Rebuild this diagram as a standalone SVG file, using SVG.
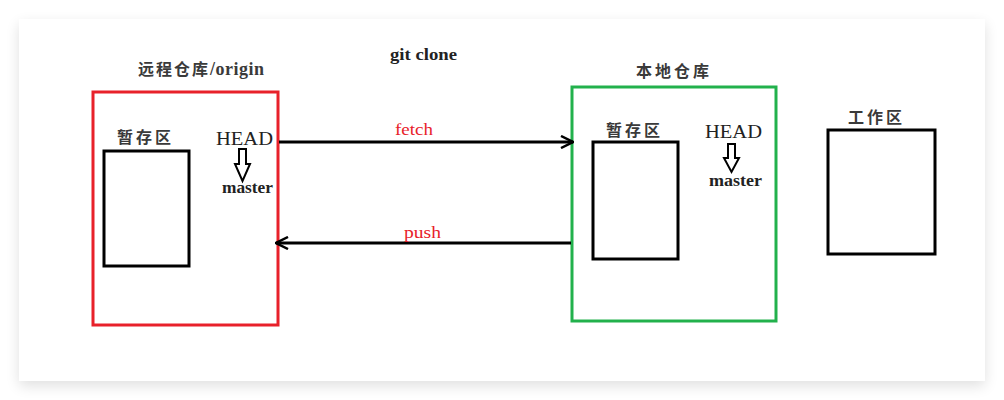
<svg xmlns="http://www.w3.org/2000/svg" width="1004" height="400" viewBox="0 0 1004 400">
<defs>
<filter id="sh" x="-5%" y="-10%" width="110%" height="125%"><feGaussianBlur stdDeviation="7"/></filter>
<marker id="open" viewBox="0 0 14 14" refX="13" refY="7" markerWidth="14" markerHeight="14" markerUnits="userSpaceOnUse" orient="auto"><path d="M1,1 L13,7 L1,13" fill="none" stroke="#000" stroke-width="2.5"/></marker>
</defs>
<style>
.t{font-family:"Liberation Serif","Noto Sans CJK SC",serif;fill:#222}
.cj{font-family:"Noto Sans CJK SC",serif;font-weight:bold;fill:#3a3a3a;font-size:16px}
.lbl{font-family:"Liberation Serif",serif;fill:#e8212a;font-size:17px}
.box{fill:none;stroke:#000;stroke-width:3}
.ha{fill:#fff;stroke:#000;stroke-width:2}
</style>
<rect width="1004" height="400" fill="#fff"/>
<rect x="19" y="24" width="966" height="362" fill="#000" opacity="0.12" filter="url(#sh)"/>
<rect x="19" y="19" width="966" height="362" fill="#fff"/>
<text class="t" x="390" y="60" font-size="17" font-weight="bold" textLength="67" lengthAdjust="spacingAndGlyphs">git clone</text>
<g id="remote">
<rect x="93" y="92" width="185" height="233" fill="none" stroke="#e8212a" stroke-width="3"/>
<text class="cj" x="138" y="75" letter-spacing="2">远程仓库<tspan font-family="Liberation Serif" font-weight="bold" font-size="18" letter-spacing="0.5">/origin</tspan></text>
<text class="cj" x="117" y="143" letter-spacing="3">暂存区</text>
<rect class="box" x="104" y="151" width="85" height="115"/>
<text class="t" x="216" y="145" font-size="19" textLength="57" lengthAdjust="spacingAndGlyphs">HEAD</text>
<polygon class="ha" points="239,149 246,149 246,164 250,164 242.5,181 235,164 239,164"/>
<text class="t" x="222" y="193" font-size="16" font-weight="bold" textLength="51" lengthAdjust="spacingAndGlyphs">master</text>
</g>
<g id="local">
<rect x="572" y="87" width="204" height="234" fill="none" stroke="#22b14c" stroke-width="3"/>
<text class="cj" x="636" y="77" letter-spacing="3">本地仓库</text>
<text class="cj" x="606" y="136" letter-spacing="3">暂存区</text>
<rect class="box" x="593" y="142" width="85" height="117"/>
<text class="t" x="705" y="138" font-size="19" textLength="57" lengthAdjust="spacingAndGlyphs">HEAD</text>
<polygon class="ha" points="728,144 735,144 735,158 739,158 731.5,172 724,158 728,158"/>
<text class="t" x="709" y="186" font-size="16" font-weight="bold" textLength="53" lengthAdjust="spacingAndGlyphs">master</text>
</g>
<g id="workspace">
<text class="cj" x="848" y="123" letter-spacing="3">工作区</text>
<rect class="box" x="828" y="130" width="107" height="124"/>
</g>
<g id="connectors">
<line x1="279" y1="142" x2="573" y2="142" stroke="#000" stroke-width="3" marker-end="url(#open)"/>
<text class="lbl" x="395" y="135" textLength="38" lengthAdjust="spacingAndGlyphs">fetch</text>
<line x1="571" y1="243" x2="276" y2="243" stroke="#000" stroke-width="3" marker-end="url(#open)"/>
<text class="lbl" x="404" y="238" textLength="37" lengthAdjust="spacingAndGlyphs">push</text>
</g>
</svg>
